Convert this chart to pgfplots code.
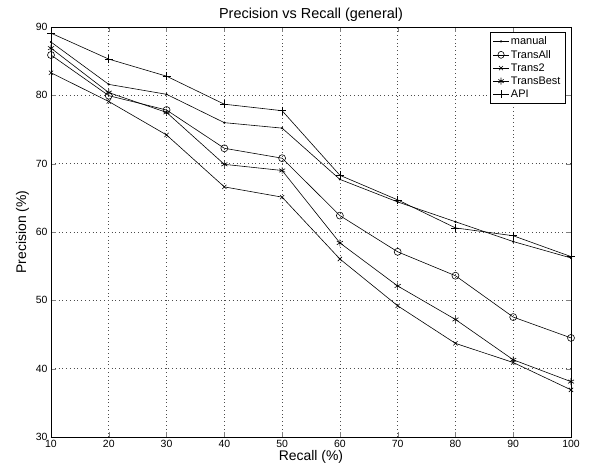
\documentclass[border=0pt]{standalone}
\usepackage{fontspec}
\setmainfont{Liberation Sans}
\usepackage{pgfplots}
\pgfplotsset{compat=1.18}

\begin{document}
\begin{tikzpicture}
\begin{axis}[
  scale only axis,
  width=520bp, height=410bp,
  xmin=10, xmax=100, ymin=30, ymax=90,
  xtick={10,20,...,100}, ytick={30,40,...,90},
  tick align=inside, tick pos=both,
  major tick length=5bp,
  xmajorgrids, ymajorgrids,
  grid style={black!70, dash pattern=on 0.6pt off 3.2pt, line width=0.6pt},
  axis line style={line width=0.8pt},
  /pgf/number format/assume math mode=true,
  tick label style={font=\fontsize{10.5}{12}\selectfont},
  title={Precision vs Recall (general)},
  title style={font=\fontsize{14.5}{16}\selectfont, yshift=-4bp},
  xlabel={Recall (\%)},
  ylabel={Precision (\%)},
  label style={font=\fontsize{14}{16}\selectfont},
  xlabel style={yshift=4bp},
  ylabel style={yshift=0bp},
  legend style={at={(0.99,0.988)}, anchor=north east, draw=black, line width=0.6pt,
    font=\fontsize{11}{12}\selectfont, inner xsep=3pt, inner ysep=2.5pt, row sep=0pt,
    cells={anchor=west}},
  legend image post style={xscale=0.9},
  every axis plot/.append style={black, line width=0.6pt},
]
\addplot[mark=*, mark size=0.8pt] coordinates {
  (10,87.8) (20,81.6) (30,80.15) (40,76.0) (50,75.2) (60,67.7) (70,64.4) (80,61.5) (90,58.6) (100,56.2)};
\addlegendentry{manual}
\addplot[mark=o, mark size=3.5pt, mark options={line width=0.6pt}] coordinates {
  (10,85.9) (20,79.95) (30,77.85) (40,72.25) (50,70.8) (60,62.4) (70,57.1) (80,53.6) (90,47.55) (100,44.5)};
\addlegendentry{TransAll}
\addplot[mark=x, mark size=3pt] coordinates {
  (10,83.3) (20,79.1) (30,74.2) (40,66.6) (50,65.1) (60,56.05) (70,49.2) (80,43.7) (90,40.9) (100,36.9)};
\addlegendentry{Trans2}
\addplot[mark=asterisk, mark size=3.5pt] coordinates {
  (10,86.9) (20,80.4) (30,77.5) (40,69.9) (50,69.0) (60,58.4) (70,52.1) (80,47.2) (90,41.3) (100,38.1)};
\addlegendentry{TransBest}
\addplot[mark=+, mark size=4pt] coordinates {
  (10,89.1) (20,85.3) (30,82.8) (40,78.7) (50,77.75) (60,68.3) (70,64.7) (80,60.6) (90,59.45) (100,56.4)};
\addlegendentry{API}
\end{axis}
\path (current axis.south west) ++(-51bp,-37bp) coordinate (bl);
\path (current axis.north east) ++(18bp,27bp) coordinate (tr);
\path (bl) rectangle (tr);
\end{tikzpicture}
\end{document}
